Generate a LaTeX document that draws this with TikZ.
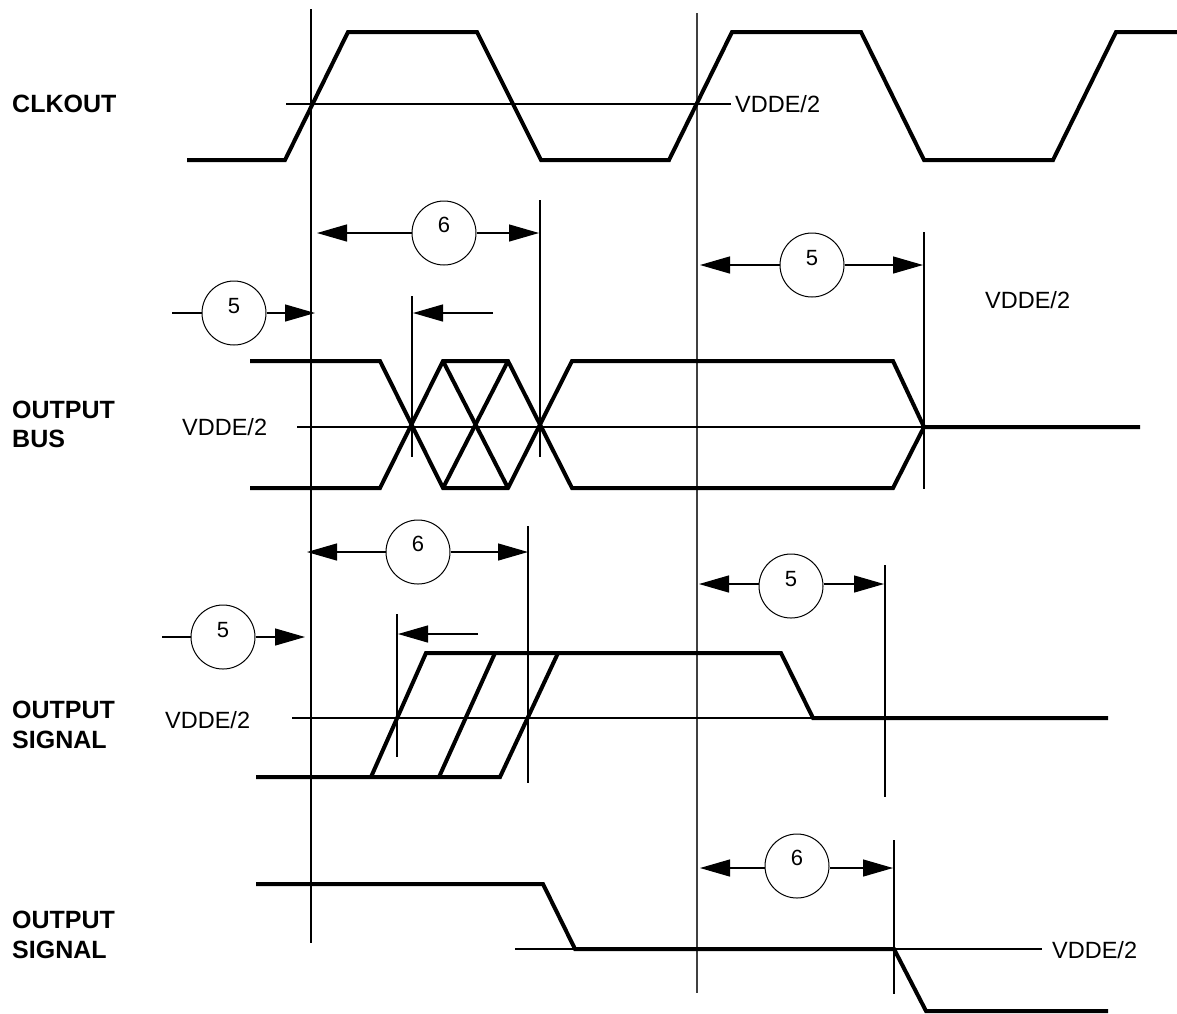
\documentclass[tikz,border=0pt]{standalone}
\usepackage{fontspec}
\setmainfont{Liberation Sans}
\usetikzlibrary{arrows.meta}
\begin{document}
\begin{tikzpicture}[x=1pt,y=-1pt,
  sig/.style={line width=4pt},
  thin/.style={line width=1.4pt},
  gthin/.style={line width=1.1pt, black!75},
  arr/.style={line width=1.3pt, -{Triangle[length=30pt,width=17pt]}},
  circ/.style={circle, draw, line width=1pt, minimum size=64pt, inner sep=0pt},
  num/.style={font=\fontsize{22}{22}\selectfont, inner sep=0pt},
  lab/.style={font=\bfseries\fontsize{25}{25}\selectfont, anchor=base west, inner sep=0pt},
  vtxt/.style={font=\fontsize{23.5}{23.5}\selectfont, anchor=west, inner sep=0pt, text depth=0pt}]
\useasboundingbox (0,0) rectangle (1177,1013);
\fill[white] (0,0) rectangle (1177,1013);

% labels
\node[lab] (lclk) at (12,112) {CLKOUT};
\node[lab] (lbus1) at (12,418) {OUTPUT};
\node[lab] (lbus2) at (12,447) {BUS};
\node[lab] (lsa1) at (12,718) {OUTPUT};
\node[lab] (lsa2) at (12,748) {SIGNAL};
\node[lab] (lsb1) at (12,928) {OUTPUT};
\node[lab] (lsb2) at (12,958) {SIGNAL};

% reference verticals
\draw[thin] (311,9) -- (311,943);
\draw[gthin] (697,13) -- (697,993);

% CLKOUT
\draw[sig] (187,160) -- (285,160) -- (348,32) -- (477,32) -- (541,160) -- (669,160) -- (732,32) -- (861,32) -- (924,160) -- (1053,160) -- (1116,32) -- (1177,32);
\draw[thin] (286,104) -- (731,104);
\node[vtxt] (v1) at (735,104) {VDDE/2};

% OUTPUT BUS
\draw[thin] (297,427) -- (924,427);
\node[vtxt] (v2) at (182,427) {VDDE/2};
\node[vtxt] (v3) at (985,300) {VDDE/2};
\draw[sig] (250,361) -- (380,361) -- (443,488) -- (508,488) -- (572,361) -- (893,361) -- (924,427) -- (1140,427);
\draw[sig] (250,488) -- (380,488) -- (443,361) -- (508,361) -- (572,488) -- (893,488) -- (924,427);
\draw[sig] (443,361) -- (508,488);
\draw[sig] (443,488) -- (508,361);
\draw[thin] (412,296) -- (412,457);
\draw[thin] (540,200) -- (540,457);
\draw[thin] (924,232) -- (924,489);

\node[circ] (c6a) at (444,233) {};
\node[num] at ([yshift=8pt]c6a.center) {6};
\coordinate (t6al) at (317,233);
\coordinate (t6ar) at (539,233);
\draw[arr] (c6a.west) -- (t6al);
\draw[arr] (c6a.east) -- (t6ar);

\node[circ] (c5a) at (234,313) {};
\node[num] at ([yshift=7pt]c5a.center) {5};
\coordinate (s5a) at (172,313);
\coordinate (t5a) at (315,313);
\draw[thin] (s5a) -- (c5a.west);
\draw[arr] (c5a.east) -- (t5a);
\coordinate (sa1) at (493,313);
\coordinate (ta1) at (413,313);
\draw[arr] (sa1) -- (ta1);

\node[circ] (c5b) at (812,265) {};
\node[num] at ([yshift=7pt]c5b.center) {5};
\coordinate (t5bl) at (700,265);
\coordinate (t5br) at (923,265);
\draw[arr] (c5b.west) -- (t5bl);
\draw[arr] (c5b.east) -- (t5br);

% OUTPUT SIGNAL 1
\draw[thin] (292,718) -- (813,718);
\node[vtxt] (v4) at (165,720) {VDDE/2};
\draw[sig] (256,777) -- (500,777) -- (558,653);
\draw[sig] (371,777) -- (426,653) -- (781,653) -- (813,718) -- (1108,718);
\draw[sig] (439,777) -- (495,653);
\draw[thin] (397,614) -- (397,757);
\draw[thin] (528,526) -- (528,783);
\draw[thin] (885,565) -- (885,797);

\node[circ] (c6b) at (418,552) {};
\node[num] at ([yshift=8pt]c6b.center) {6};
\coordinate (t6bl) at (307,552);
\coordinate (t6br) at (528,552);
\draw[arr] (c6b.west) -- (t6bl);
\draw[arr] (c6b.east) -- (t6br);

\node[circ] (c5c) at (223,637) {};
\node[num] at ([yshift=7pt]c5c.center) {5};
\coordinate (s5c) at (162,637);
\coordinate (t5c) at (305,637);
\draw[thin] (s5c) -- (c5c.west);
\draw[arr] (c5c.east) -- (t5c);
\coordinate (sa2) at (478,634);
\coordinate (ta2) at (398,634);
\draw[arr] (sa2) -- (ta2);

\node[circ] (c5d) at (791,586) {};
\node[num] at ([yshift=7pt]c5d.center) {5};
\coordinate (t5dl) at (699,584);
\coordinate (t5dr) at (884,584);
\draw[arr] (c5d.west |- t5dl) -- (t5dl);
\draw[arr] (c5d.east |- t5dr) -- (t5dr);

% OUTPUT SIGNAL 2
\draw[thin] (515,949) -- (575,949);
\draw[thin] (894,949) -- (1042,949);
\node[vtxt] (v5) at (1052,950) {VDDE/2};
\draw[sig] (256,884) -- (543,884) -- (575,949) -- (894,949) -- (926,1011) -- (1108,1011);
\draw[thin] (894,840) -- (894,994);

\node[circ] (c6c) at (797,866) {};
\node[num] at ([yshift=8pt]c6c.center) {6};
\coordinate (t6cl) at (700,868);
\coordinate (t6cr) at (893,868);
\draw[arr] (c6c.west |- t6cl) -- (t6cl);
\draw[arr] (c6c.east |- t6cr) -- (t6cr);
\end{tikzpicture}
\end{document}
